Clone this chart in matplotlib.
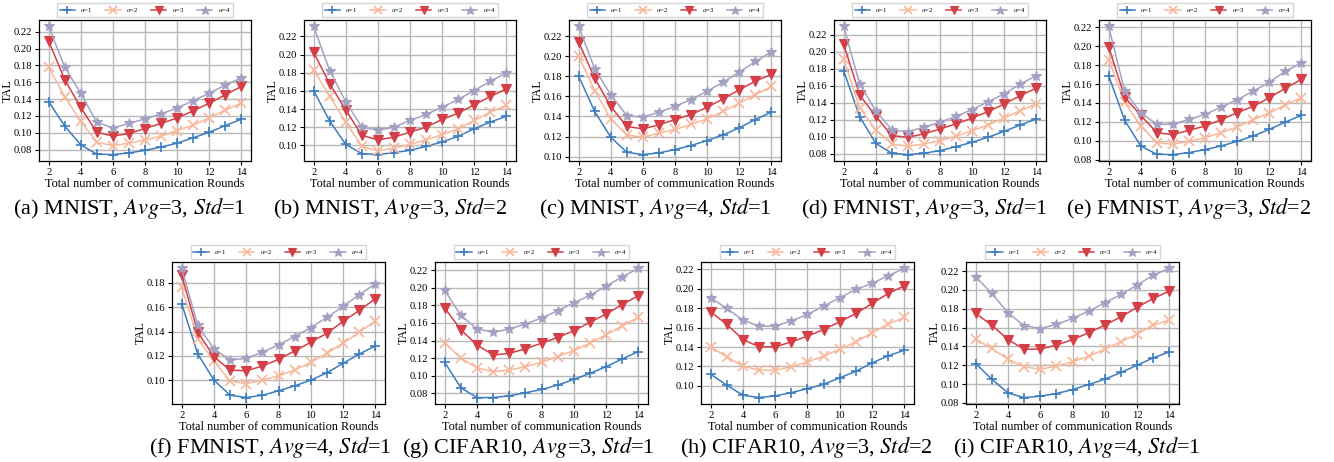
import matplotlib
matplotlib.use('Agg')
import matplotlib.pyplot as plt
from matplotlib.ticker import MultipleLocator, FormatStrFormatter

plt.rcParams['font.family'] = 'serif'
plt.rcParams['font.serif'] = ['Liberation Serif', 'DejaVu Serif']
plt.rcParams['mathtext.fontset'] = 'stix'

rounds = list(range(2, 15))
xticks = [2, 4, 6, 8, 10, 12, 14]
labels = [r'$\alpha$=1', r'$\alpha$=2', r'$\alpha$=3', r'$\alpha$=4']
colors = ['#3d7dbd', '#f9b79a', '#d43f47', '#a3a2c2']
markers = ['+', 'x', 'v', '*']
msizes = [6.5, 6.5, 7, 7]

# (a) MNIST, Avg=3, Std=1
a_1 = [0.137, 0.108, 0.0855, 0.0745, 0.074, 0.076, 0.079, 0.083, 0.0875, 0.094, 0.1005, 0.1085, 0.116]
a_2 = [0.1777, 0.143, 0.1136, 0.0887, 0.0847, 0.0875, 0.0915, 0.0958, 0.1025, 0.109, 0.1176, 0.127, 0.135]
a_3 = [0.209, 0.163, 0.130, 0.1005, 0.096, 0.099, 0.105, 0.111, 0.1175, 0.126, 0.135, 0.145, 0.155]
a_4 = [0.2263, 0.178, 0.1468, 0.1124, 0.1057, 0.111, 0.1164, 0.1223, 0.1294, 0.138, 0.1468, 0.1567, 0.165]
# (b) MNIST, Avg=3, Std=2
b_1 = [0.1604, 0.1267, 0.101, 0.0909, 0.0898, 0.092, 0.0945, 0.0989, 0.1037, 0.1099, 0.1183, 0.1256, 0.132]
b_2 = [0.183, 0.154, 0.1256, 0.0989, 0.0938, 0.097, 0.101, 0.106, 0.1117, 0.118, 0.1274, 0.1366, 0.144]
b_3 = [0.2024, 0.1677, 0.139, 0.111, 0.106, 0.109, 0.1146, 0.120, 0.1285, 0.1355, 0.1446, 0.1538, 0.162]
b_4 = [0.231, 0.1823, 0.148, 0.120, 0.1165, 0.120, 0.1274, 0.134, 0.142, 0.1505, 0.1604, 0.1706, 0.1797]
# (c) MNIST, Avg=4, Std=1
c_1 = [0.180, 0.1449, 0.1193, 0.1043, 0.102, 0.1037, 0.107, 0.111, 0.116, 0.1216, 0.1286, 0.1369, 0.1442]
c_2 = [0.200, 0.1658, 0.1376, 0.1216, 0.1193, 0.1233, 0.127, 0.132, 0.1376, 0.1449, 0.1532, 0.1615, 0.1698]
c_3 = [0.214, 0.178, 0.150, 0.130, 0.1276, 0.1316, 0.1369, 0.1419, 0.1492, 0.1575, 0.1665, 0.1751, 0.1818]
c_4 = [0.2296, 0.1874, 0.1615, 0.1409, 0.1392, 0.1442, 0.1499, 0.1568, 0.1651, 0.1741, 0.1841, 0.1947, 0.204]
# (d) FMNIST, Avg=3, Std=1
d_1 = [0.1778, 0.1238, 0.0925, 0.0808, 0.0792, 0.0808, 0.0839, 0.0886, 0.0937, 0.0996, 0.1066, 0.114, 0.1211]
d_2 = [0.1915, 0.134, 0.1085, 0.0917, 0.089, 0.0917, 0.0956, 0.1007, 0.1074, 0.114, 0.1222, 0.1308, 0.1387]
d_3 = [0.209, 0.1492, 0.1242, 0.1015, 0.0996, 0.1035, 0.1093, 0.1152, 0.1222, 0.1297, 0.1387, 0.1484, 0.1574]
d_4 = [0.2298, 0.1621, 0.1308, 0.1082, 0.1062, 0.1113, 0.1172, 0.1242, 0.132, 0.1414, 0.1504, 0.1621, 0.1719]
# (e) FMNIST, Avg=3, Std=2
e_1 = [0.169, 0.1215, 0.0944, 0.0856, 0.0853, 0.0874, 0.0906, 0.0944, 0.0993, 0.105, 0.112, 0.1197, 0.1268]
e_2 = [0.1859, 0.1409, 0.1155, 0.0979, 0.0962, 0.0993, 0.1032, 0.1085, 0.1145, 0.1222, 0.1292, 0.138, 0.1454]
e_3 = [0.1996, 0.1461, 0.1268, 0.1085, 0.1064, 0.111, 0.1155, 0.1222, 0.1296, 0.1363, 0.1454, 0.1556, 0.1648]
e_4 = [0.221, 0.1524, 0.1296, 0.1173, 0.1173, 0.1226, 0.1278, 0.1356, 0.1433, 0.1524, 0.1619, 0.1735, 0.1823]
# (f) FMNIST, Avg=4, Std=1
f_1 = [0.1629, 0.1215, 0.100, 0.0876, 0.0857, 0.0876, 0.0912, 0.0953, 0.100, 0.1061, 0.1138, 0.1215, 0.1281]
f_2 = [0.1764, 0.1339, 0.1157, 0.0994, 0.0972, 0.100, 0.1036, 0.1083, 0.1146, 0.1221, 0.1303, 0.1394, 0.1488]
f_3 = [0.1863, 0.1394, 0.1193, 0.1083, 0.1077, 0.1116, 0.1171, 0.124, 0.1312, 0.1386, 0.1483, 0.1574, 0.167]
f_4 = [0.1919, 0.145, 0.1257, 0.1166, 0.1179, 0.1229, 0.129, 0.1359, 0.1433, 0.1516, 0.1607, 0.1703, 0.1792]
# (g) CIFAR10, Avg=3, Std=1
g_1 = [0.1154, 0.0865, 0.0754, 0.0754, 0.0773, 0.0808, 0.0846, 0.0895, 0.096, 0.1028, 0.1104, 0.1192, 0.1276]
g_2 = [0.1378, 0.1199, 0.1093, 0.1047, 0.1066, 0.1104, 0.1154, 0.1218, 0.1287, 0.1371, 0.1466, 0.1568, 0.1664]
g_3 = [0.177, 0.1523, 0.1352, 0.1237, 0.1256, 0.1306, 0.1371, 0.1435, 0.1511, 0.1607, 0.1702, 0.1808, 0.1911]
g_4 = [0.1972, 0.1686, 0.1534, 0.1496, 0.153, 0.1588, 0.1656, 0.174, 0.1827, 0.1915, 0.2017, 0.2124, 0.2219]
# (h) CIFAR10, Avg=3, Std=2
h_1 = [0.112, 0.1007, 0.0904, 0.088, 0.0897, 0.0931, 0.0972, 0.1017, 0.1083, 0.1151, 0.1237, 0.1309, 0.1368]
h_2 = [0.1402, 0.1299, 0.1203, 0.1162, 0.1162, 0.1196, 0.1248, 0.1306, 0.1378, 0.1454, 0.1547, 0.1636, 0.1705]
h_3 = [0.1763, 0.1633, 0.1478, 0.1402, 0.1402, 0.1454, 0.1512, 0.1581, 0.166, 0.1746, 0.1849, 0.1952, 0.2031]
h_4 = [0.1908, 0.1798, 0.1677, 0.1615, 0.1615, 0.167, 0.1736, 0.1822, 0.1908, 0.1994, 0.2056, 0.2135, 0.221]
# (i) CIFAR10, Avg=4, Std=1
i_1 = [0.1218, 0.1052, 0.0906, 0.0857, 0.0871, 0.0899, 0.0942, 0.0995, 0.1052, 0.1123, 0.120, 0.1278, 0.1342]
i_2 = [0.1477, 0.1378, 0.1264, 0.1183, 0.1158, 0.119, 0.1236, 0.1296, 0.1371, 0.1449, 0.153, 0.1626, 0.1679]
i_3 = [0.175, 0.1626, 0.1473, 0.1371, 0.1371, 0.1413, 0.1473, 0.1544, 0.1626, 0.1714, 0.1814, 0.1909, 0.1987]
i_4 = [0.214, 0.1963, 0.1757, 0.1619, 0.159, 0.1633, 0.1697, 0.1775, 0.1863, 0.1952, 0.2051, 0.2157, 0.2228]

panels = [
    ('(a) MNIST, ', '3', '1', [a_1, a_2, a_3, a_4]),
    ('(b) MNIST, ', '3', '2', [b_1, b_2, b_3, b_4]),
    ('(c) MNIST, ', '4', '1', [c_1, c_2, c_3, c_4]),
    ('(d) FMNIST, ', '3', '1', [d_1, d_2, d_3, d_4]),
    ('(e) FMNIST, ', '3', '2', [e_1, e_2, e_3, e_4]),
    ('(f) FMNIST, ', '4', '1', [f_1, f_2, f_3, f_4]),
    ('(g) CIFAR10, ', '3', '1', [g_1, g_2, g_3, g_4]),
    ('(h) CIFAR10, ', '3', '2', [h_1, h_2, h_3, h_4]),
    ('(i) CIFAR10, ', '4', '1', [i_1, i_2, i_3, i_4]),
]

W, H = 1334, 462
fig = plt.figure(figsize=(W / 100, H / 100), dpi=100)

# axes boxes in pixels: left, top, width, height
top_left = [39, 304, 569, 834, 1099]
bot_left = [172, 435, 701, 966]
boxes = [(l, 20, 212, 141) for l in top_left] + [(l, 262, 213, 142) for l in bot_left]
cap_x = [129, 390, 655, 924, 1189, 270, 528, 806, 1077]
cap_y = [208, 208, 208, 208, 208, 448, 448, 448, 448]

for k, (name, avg, std, series) in enumerate(panels):
    l, t, w, h = boxes[k]
    ax = fig.add_axes([l / W, 1 - (t + h) / H, w / W, h / H])
    for s, lab, c, m, ms in zip(series, labels, colors, markers, msizes):
        ax.plot(rounds, s, color=c, marker=m, markersize=ms, lw=1.1,
                markeredgewidth=1.2 if m in '+x' else 0.8, label=lab)
    ax.set_xticks(xticks)
    ax.yaxis.set_major_locator(MultipleLocator(0.02))
    ax.yaxis.set_major_formatter(FormatStrFormatter('%.2f'))
    ax.grid(True, color='#b8b8b8', lw=1.0)
    ax.set_axisbelow(True)
    ax.tick_params(labelsize=7.6, length=3, width=0.8, pad=2)
    ax.set_xlabel('Total number of communication Rounds', fontsize=8.8, labelpad=1)
    ax.set_ylabel('TAL', fontsize=8.8, labelpad=0)
    for sp in ax.spines.values():
        sp.set_color('black')
        sp.set_linewidth(0.9)
    ax.legend(loc='lower center', bbox_to_anchor=(0.5, 1.0), ncol=4, fontsize=4.8,
              frameon=True, fancybox=False, edgecolor='#cccccc', handlelength=2.3,
              columnspacing=1.9, borderpad=0.4, markerscale=0.9)
    fig.text(cap_x[k] / W, 1 - cap_y[k] / H,
             name + r'$\it{Avg}$=' + avg + r', $\it{Std}$=' + std,
             ha='center', va='center', fontsize=16)

fig.savefig('out.png', dpi=100)
